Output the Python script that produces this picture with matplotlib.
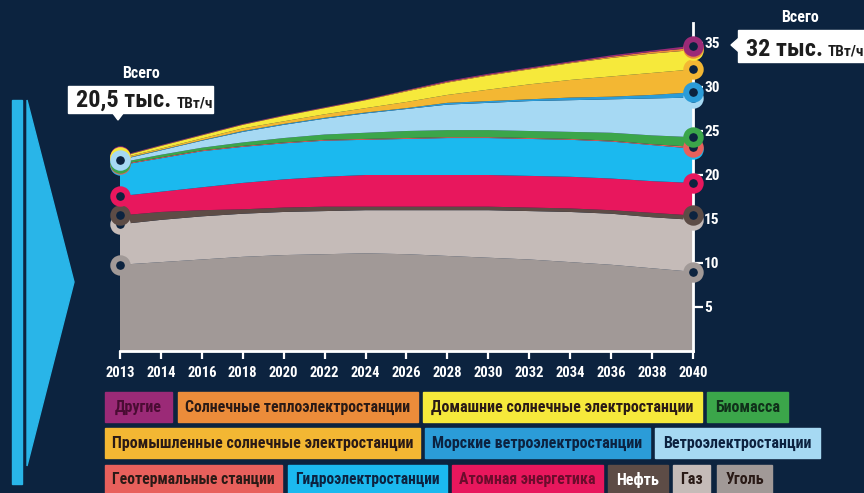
import matplotlib
matplotlib.use('Agg')
import matplotlib.pyplot as plt
import numpy as np
from matplotlib import font_manager as fm
from matplotlib.patches import Rectangle, Polygon

W, H = 864, 493
BG = '#0c233f'

# ---------------- data ----------------
years = ['2013', '2014', '2016', '2018', '2020', '2022', '2024', '2026',
         '2028', '2030', '2032', '2034', '2036', '2038', '2040']
coal          = [9.8, 10.1, 10.4, 10.7, 10.9, 11.0, 11.1, 11.0, 10.8, 10.6, 10.4, 10.1, 9.8, 9.4, 9.0]
gas           = [4.6, 4.8, 4.9, 4.9, 4.9, 4.9, 4.9, 5.0, 5.2, 5.4, 5.5, 5.7, 5.8, 5.8, 5.9]
oil           = [1.0, 0.9, 0.7, 0.5, 0.5, 0.5, 0.4, 0.4, 0.4, 0.4, 0.4, 0.4, 0.4, 0.5, 0.5]
nuclear       = [2.2, 2.3, 2.6, 3.0, 3.2, 3.4, 3.6, 3.6, 3.6, 3.6, 3.6, 3.6, 3.6, 3.6, 3.7]
hydro         = [3.5, 3.8, 4.1, 4.1, 4.1, 4.1, 4.0, 4.1, 4.2, 4.2, 4.2, 4.2, 4.2, 4.1, 3.9]
geothermal    = [0.1, 0.1, 0.1, 0.1, 0.1, 0.1, 0.1, 0.1, 0.1, 0.1, 0.1, 0.1, 0.1, 0.1, 0.2]
biomass       = [0.2, 0.3, 0.3, 0.4, 0.5, 0.6, 0.7, 0.8, 0.8, 0.8, 0.8, 0.8, 0.9, 1.0, 1.1]
wind          = [0.3, 0.5, 0.8, 1.2, 1.5, 1.8, 2.2, 2.5, 2.9, 3.1, 3.4, 3.6, 3.8, 4.2, 4.5]
offshore_wind = [0.05, 0.05, 0.05, 0.1, 0.1, 0.1, 0.1, 0.1, 0.2, 0.2, 0.2, 0.3, 0.3, 0.4, 0.6]
utility_solar = [0.15, 0.15, 0.2, 0.3, 0.3, 0.4, 0.5, 0.7, 0.9, 1.3, 1.7, 2.0, 2.3, 2.5, 2.6]
home_solar    = [0.15, 0.3, 0.35, 0.4, 0.6, 0.7, 0.9, 1.2, 1.4, 1.6, 1.7, 1.9, 2.1, 2.2, 2.2]
solar_thermal = [0.05, 0.05, 0.05, 0.05, 0.05, 0.05, 0.05, 0.1, 0.1, 0.1, 0.1, 0.1, 0.15, 0.2, 0.25]
other         = [0.05, 0.05, 0.05, 0.05, 0.05, 0.05, 0.05, 0.05, 0.1, 0.1, 0.1, 0.1, 0.15, 0.15, 0.25]

y_ticks = [5, 10, 15, 20, 25, 30, 35]

total_label = 'Всего'
start_total = '20,5 тыс.'
end_total = '32 тыс.'
unit_label = 'ТВт/ч'

legend_labels = ['Другие', 'Солнечные теплоэлектростанции', 'Домашние солнечные электростанции',
                 'Биомасса', 'Промышленные солнечные электростанции', 'Морские ветроэлектростанции',
                 'Ветроэлектростанции', 'Геотермальные станции', 'Гидроэлектростанции',
                 'Атомная энергетика', 'Нефть', 'Газ', 'Уголь']

# ---------------- styles ----------------
C_COAL, C_GAS, C_OIL = '#a19997', '#c5bbb8', '#5d4c46'
C_NUC, C_HYD, C_GEO = '#e8175d', '#1bb9ef', '#e8605c'
C_BIO, C_WIND, C_OFF = '#3ba64a', '#a6d9f3', '#2b9cd8'
C_USOL, C_HSOL, C_STH, C_OTH = '#f3b733', '#f6e93b', '#ec8c3a', '#9b2a77'

series = [coal, gas, oil, nuclear, hydro, geothermal, biomass, wind,
          offshore_wind, utility_solar, home_solar, solar_thermal, other]
colors = [C_COAL, C_GAS, C_OIL, C_NUC, C_HYD, C_GEO, C_BIO, C_WIND,
          C_OFF, C_USOL, C_HSOL, C_STH, C_OTH]
# drawing order of the rings at the first year (last one is on top)
start_ring_order = [0, 1, 2, 3, 4, 12, 11, 5, 6, 8, 9, 10, 7]

# legend boxes: (label, fill, text colour, x0, x1, row top, row bottom) in pixels
DARK = '#2a1a16'
legend_layout = [
    (legend_labels[0], C_OTH, '#4a0c33', 105, 172, 392, 422),
    (legend_labels[1], C_STH, DARK, 178, 418, 392, 422),
    (legend_labels[2], C_HSOL, DARK, 423, 702, 392, 422),
    (legend_labels[3], C_BIO, '#10301a', 707, 788, 392, 422),
    (legend_labels[4], C_USOL, DARK, 105, 420, 428, 458),
    (legend_labels[5], C_OFF, '#0c2240', 425, 650, 428, 458),
    (legend_labels[6], C_WIND, '#0c2240', 655, 820, 428, 458),
    (legend_labels[7], C_GEO, DARK, 105, 282, 465, 495),
    (legend_labels[8], C_HYD, '#0c2240', 288, 447, 465, 495),
    (legend_labels[9], C_NUC, '#6b0c2c', 452, 603, 465, 495),
    (legend_labels[10], C_OIL, 'white', 608, 668, 465, 495),
    (legend_labels[11], C_GAS, DARK, 673, 710, 465, 495),
    (legend_labels[12], C_COAL, DARK, 717, 772, 465, 495),
]

# ---------------- fonts ----------------
ttf = fm.fontManager.ttflist
avail = {f.name for f in ttf}
FAMILY, STRETCH = 'DejaVu Sans', 'normal'
if 'Roboto Condensed' in avail:
    FAMILY = 'Roboto Condensed'
elif 'Liberation Sans Narrow' in avail:
    FAMILY = 'Liberation Sans Narrow'
elif any(f.name == 'DejaVu Sans' and 'Condensed' in f.fname for f in ttf):
    FAMILY, STRETCH = 'DejaVu Sans', 'condensed'
elif 'Roboto' in avail:
    FAMILY = 'Roboto'
FK = dict(family=FAMILY, fontstretch=STRETCH, fontweight='bold')

# ---------------- figure ----------------
fig = plt.figure(figsize=(W / 100, H / 100), dpi=100, facecolor=BG)


def fx(x):
    return x / W


def fy(y):
    return 1 - y / H


# decoration on the left
fig.patches.append(Rectangle((fx(12), fy(484)), fx(10), 384 / H, transform=fig.transFigure,
                             color='#29b5e8', zorder=0))
fig.patches.append(Polygon([(fx(27), fy(100)), (fx(74), fy(282)), (fx(27), fy(466))],
                           closed=True, transform=fig.transFigure, color='#29b5e8', zorder=0))

# axes: x from px 120 to 693, y=0 at px 351, 8.8 px per unit
ymax = 38.0
ax_left, ax_right, ax_bottom = 120, 693, 351
ax_top = ax_bottom - ymax * 8.8
ax = fig.add_axes([fx(ax_left), fy(ax_bottom), (ax_right - ax_left) / W, (ax_bottom - ax_top) / H])
ax.set_facecolor('none')

x = np.arange(len(years))
ax.stackplot(x, *series, colors=colors, linewidth=0, zorder=2)
ax.set_xlim(0, len(years) - 1)
ax.set_ylim(0, ymax)

# ring markers at both ends
tops = np.cumsum(np.array(series), axis=0)
ring = dict(marker='o', ms=10.5, mew=4.2, mfc=BG, clip_on=False)
for k, i in enumerate(start_ring_order):
    ax.plot(x[0], tops[i, 0], mec=colors[i], zorder=5 + k, **ring)
for i, c in enumerate(colors):
    ax.plot(x[-1], tops[i, -1], mec=c, zorder=5 + i, **ring)

for s in ('top', 'left'):
    ax.spines[s].set_visible(False)
ax.spines['right'].set_color('white')
ax.spines['right'].set_linewidth(2)
ax.spines['right'].set_bounds(0, 37.3)
ax.spines['right'].set_zorder(4)
ax.spines['bottom'].set_color('white')
ax.spines['bottom'].set_linewidth(2)
ax.yaxis.tick_right()
ax.set_yticks(y_ticks)
ax.set_yticklabels([str(v) for v in y_ticks])
ax.tick_params(axis='y', colors='white', length=7, width=1.6, pad=1, labelsize=11)
ax.set_xticks(x)
ax.set_xticklabels(years)
ax.tick_params(axis='x', colors='white', length=6, width=1.6, pad=5, labelsize=10.5)
for lab in ax.get_xticklabels() + ax.get_yticklabels():
    lab.set_fontfamily(FAMILY)
    lab.set_fontstretch(STRETCH)
    lab.set_fontweight('bold')

renderer = fig.canvas.get_renderer()


def total_box(x0, x1, y0, y1, big, small, ptr):
    fig.patches.append(Rectangle((fx(x0), fy(y1)), (x1 - x0) / W, (y1 - y0) / H,
                                 transform=fig.transFigure, color='white', zorder=6))
    fig.patches.append(Polygon([(fx(p[0]), fy(p[1])) for p in ptr], closed=True,
                               transform=fig.transFigure, color='white', zorder=6))
    base = fy(y1 - 6)
    t1 = fig.text(fx(x0 + 8), base, big, ha='left', va='baseline', color='#1d1d1d',
                  fontsize=17.5, zorder=7, **FK)
    bb = t1.get_window_extent(renderer)
    fig.text(bb.x1 / W + fx(5), base, small, ha='left', va='baseline', color='#1d1d1d',
             fontsize=11, zorder=7, **FK)


total_box(68, 213, 86, 113, start_total, unit_label, [(112, 112), (124, 112), (118, 120)])
fig.text(fx(141), fy(73), total_label, ha='center', va='center', color='white', fontsize=11.5, **FK)
total_box(738, 864, 30, 62, end_total, unit_label, [(739, 38), (739, 52), (731, 45)])
fig.text(fx(800), fy(17), total_label, ha='center', va='center', color='white', fontsize=11.5, **FK)

# legend boxes
for lab, fc, tc, x0, x1, y0, y1 in legend_layout:
    fig.patches.append(Rectangle((fx(x0), fy(y1)), (x1 - x0) / W, (y1 - y0) / H,
                                 transform=fig.transFigure, color=fc, zorder=3))
    t = fig.text(fx((x0 + x1) / 2), fy((y0 + min(y1, 493)) / 2 + 0.5), lab, ha='center', va='center',
                 color=tc, fontsize=11.5, zorder=4, **FK)
    w = t.get_window_extent(renderer).width
    avail_w = (x1 - x0) - 14
    if w > avail_w:
        t.set_fontsize(11.5 * avail_w / w)

fig.savefig('out.png', dpi=100, facecolor=BG)
